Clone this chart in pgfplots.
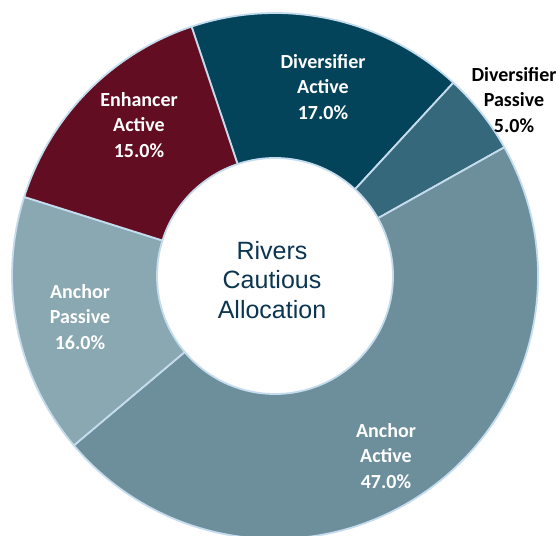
\documentclass[border=0pt]{standalone}
\usepackage{pgfplots}
\pgfplotsset{compat=1.18}
\usepackage{fontspec}
\setmainfont{Carlito}
\newfontfamily\titlefont{Liberation Sans}
\definecolor{divA}{HTML}{03445B}
\definecolor{divP}{HTML}{35687A}
\definecolor{ancA}{HTML}{6D8F9C}
\definecolor{ancP}{HTML}{8AA8B1}
\definecolor{enhA}{HTML}{620D22}
\definecolor{bordercol}{HTML}{C5DCEF}
\definecolor{titlecol}{HTML}{0B3550}
% #1 = cumulative share before the slice (%), #2 = share (%), #3 = colour
\newcommand{\slice}[3]{%
  \fill[#3, draw=bordercol, line width=1.8pt, line join=round]
    (axis cs:275,259) -- ++({108.5-3.6*#1}:263pt)
    arc[start angle={108.5-3.6*#1}, delta angle={-3.6*#2}, radius=263pt] -- cycle;}
\begin{document}
\begin{tikzpicture}
\path[use as bounding box] (0,0) rectangle (556pt,535pt);
\clip (0,0) rectangle (556pt,535pt);
\begin{axis}[at={(0,0)}, anchor=south west, scale only axis,
  width=556pt, height=535pt, xmin=0, xmax=556, ymin=0, ymax=535,
  axis lines=none, clip=false]
\slice{0}{17}{divA}
\slice{17}{5}{divP}
\slice{22}{47}{ancA}
\slice{69}{16}{ancP}
\slice{85}{15}{enhA}
\draw[fill=white, draw=bordercol, line width=1.8pt] (axis cs:275,259) circle[radius=118pt];
\node[align=center, text=titlecol, font=\titlefont\fontsize{25}{29.5}\selectfont] at (axis cs:272,255) {Rivers\\Cautious\\Allocation};
\begin{scope}[every node/.style={align=center, text=white, font=\bfseries\fontsize{20}{25.5}\selectfont}]
\node at (axis cs:323,448) {Diversifier\\Active\\17.0\%};
\node at (axis cs:139,410) {Enhancer\\Active\\15.0\%};
\node at (axis cs:80,218) {Anchor\\Passive\\16.0\%};
\node at (axis cs:386,79) {Anchor\\Active\\47.0\%};
\node[text=black] at (axis cs:514,435) {Diversifier\\Passive\\5.0\%};
\end{scope}
\end{axis}
\end{tikzpicture}
\end{document}
